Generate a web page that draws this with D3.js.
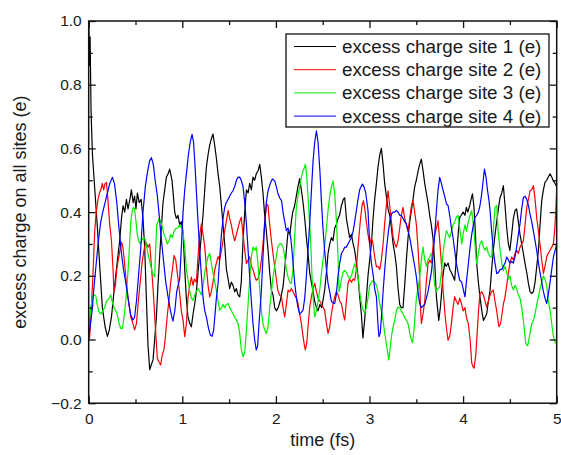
<!DOCTYPE html>
<html><head><meta charset="utf-8">
<script src="https://cdn.jsdelivr.net/npm/d3@7"></script>
<style>
html,body{margin:0;padding:0;background:#fff;}
svg{display:block;font-family:"Liberation Sans",Arial,sans-serif;}
</style></head>
<body>
<svg id="c" width="561" height="455"></svg>
<script>
// ---------- data (time in fs, excess charge in e) ----------
const seriesNames = ["excess charge site 1 (e)","excess charge site 2 (e)","excess charge site 3 (e)","excess charge site 4 (e)"];
const seriesColors = ["#000000","#ff0000","#00f000","#0000ff"];
const xTickValues = [0,1,2,3,4,5];
const yTickValues = [-0.2,0.0,0.2,0.4,0.6,0.8,1.0];
const xMinorTicks = [0.5,1.5,2.5,3.5,4.5];
const yMinorTicks = [-0.1,0.1,0.3,0.5,0.7,0.9];

const site1 = [[0,1.0],[0.008,0.86],[0.015,0.95],[0.025,0.72],[0.04,0.58],[0.07,0.45],[0.093,0.35],[0.12,0.22],[0.146,0.1],[0.175,0.04],[0.2,0.01],[0.22,0.03],[0.243,0.07],[0.27,0.15],[0.296,0.22],[0.331,0.31],[0.35,0.38],[0.367,0.42],[0.385,0.40],[0.403,0.44],[0.42,0.41],[0.44,0.44],[0.456,0.47],[0.475,0.43],[0.49,0.45],[0.505,0.41],[0.52,0.46],[0.54,0.43],[0.56,0.44],[0.58,0.38],[0.598,0.29],[0.616,0.13],[0.634,-0.02],[0.652,-0.095],[0.668,-0.08],[0.687,-0.064],[0.705,0.0],[0.723,0.07],[0.74,0.17],[0.758,0.26],[0.776,0.35],[0.794,0.43],[0.812,0.47],[0.83,0.51],[0.848,0.52],[0.865,0.535],[0.89,0.50],[0.905,0.45],[0.919,0.40],[0.936,0.38],[0.954,0.39],[0.972,0.36],[0.99,0.37],[1.01,0.33],[1.026,0.22],[1.043,0.13],[1.061,0.07],[1.08,0.05],[1.097,0.04],[1.115,0.08],[1.132,0.11],[1.15,0.15],[1.168,0.21],[1.195,0.30],[1.221,0.39],[1.24,0.47],[1.257,0.54],[1.275,0.58],[1.293,0.61],[1.31,0.63],[1.328,0.645],[1.346,0.61],[1.364,0.57],[1.382,0.52],[1.4,0.48],[1.418,0.42],[1.435,0.36],[1.453,0.30],[1.471,0.22],[1.49,0.19],[1.506,0.16],[1.524,0.18],[1.542,0.17],[1.56,0.15],[1.578,0.16],[1.595,0.14],[1.613,0.134],[1.63,0.18],[1.649,0.31],[1.667,0.40],[1.685,0.47],[1.703,0.46],[1.72,0.49],[1.738,0.47],[1.755,0.51],[1.773,0.50],[1.79,0.52],[1.81,0.53],[1.827,0.55],[1.845,0.51],[1.862,0.46],[1.88,0.39],[1.898,0.34],[1.916,0.28],[1.934,0.21],[1.952,0.155],[1.969,0.14],[1.987,0.10],[2.005,0.09],[2.025,0.10],[2.045,0.12],[2.076,0.165],[2.094,0.22],[2.112,0.28],[2.13,0.34],[2.15,0.33],[2.165,0.37],[2.18,0.40],[2.2,0.42],[2.218,0.45],[2.236,0.48],[2.254,0.505],[2.272,0.47],[2.29,0.43],[2.308,0.38],[2.326,0.32],[2.343,0.27],[2.361,0.21],[2.379,0.18],[2.397,0.15],[2.415,0.12],[2.433,0.10],[2.45,0.09],[2.47,0.11],[2.49,0.10],[2.521,0.155],[2.54,0.21],[2.557,0.27],[2.575,0.30],[2.593,0.32],[2.61,0.31],[2.628,0.35],[2.645,0.36],[2.664,0.38],[2.68,0.39],[2.7,0.42],[2.72,0.44],[2.735,0.445],[2.753,0.38],[2.77,0.35],[2.788,0.32],[2.807,0.33],[2.825,0.30],[2.842,0.28],[2.86,0.24],[2.877,0.20],[2.895,0.134],[2.913,0.08],[2.93,0.005],[2.948,0.06],[2.966,0.13],[2.984,0.20],[3.002,0.25],[3.02,0.30],[3.038,0.38],[3.055,0.44],[3.074,0.49],[3.09,0.54],[3.11,0.58],[3.127,0.60],[3.145,0.55],[3.162,0.49],[3.18,0.45],[3.198,0.41],[3.216,0.39],[3.234,0.35],[3.252,0.30],[3.27,0.27],[3.287,0.23],[3.305,0.16],[3.323,0.11],[3.34,0.10],[3.358,0.10],[3.376,0.17],[3.394,0.25],[3.412,0.32],[3.43,0.37],[3.45,0.41],[3.465,0.44],[3.483,0.48],[3.50,0.50],[3.52,0.53],[3.536,0.55],[3.554,0.566],[3.572,0.53],[3.59,0.49],[3.607,0.46],[3.625,0.43],[3.643,0.39],[3.66,0.36],[3.678,0.32],[3.697,0.24],[3.715,0.134],[3.74,0.06],[3.757,0.10],[3.785,0.20],[3.803,0.24],[3.82,0.23],[3.84,0.24],[3.857,0.22],[3.875,0.21],[3.89,0.20],[3.91,0.186],[3.935,0.28],[3.95,0.34],[3.964,0.384],[3.98,0.39],[4.0,0.40],[4.02,0.39],[4.035,0.415],[4.05,0.40],[4.07,0.42],[4.085,0.44],[4.1,0.457],[4.115,0.42],[4.127,0.36],[4.145,0.24],[4.163,0.18],[4.18,0.134],[4.2,0.09],[4.217,0.06],[4.235,0.07],[4.252,0.08],[4.27,0.12],[4.288,0.155],[4.305,0.22],[4.323,0.28],[4.341,0.33],[4.359,0.37],[4.377,0.41],[4.395,0.446],[4.413,0.46],[4.43,0.483],[4.448,0.42],[4.466,0.35],[4.484,0.30],[4.5,0.28],[4.519,0.33],[4.537,0.38],[4.555,0.405],[4.572,0.41],[4.59,0.37],[4.608,0.33],[4.626,0.30],[4.644,0.27],[4.662,0.238],[4.68,0.21],[4.698,0.176],[4.715,0.15],[4.733,0.144],[4.751,0.15],[4.769,0.18],[4.787,0.23],[4.805,0.28],[4.822,0.36],[4.84,0.436],[4.858,0.47],[4.875,0.493],[4.893,0.50],[4.91,0.51],[4.929,0.52],[4.947,0.51],[4.965,0.498],[4.983,0.49],[5.0,0.48]];

const site2 = [[0,0.0],[0.01,0.005],[0.025,0.08],[0.045,0.2],[0.064,0.34],[0.08,0.40],[0.1,0.44],[0.115,0.46],[0.13,0.47],[0.145,0.49],[0.16,0.47],[0.175,0.49],[0.19,0.493],[0.205,0.44],[0.225,0.36],[0.243,0.31],[0.26,0.22],[0.27,0.15],[0.285,0.17],[0.3,0.22],[0.324,0.264],[0.34,0.29],[0.352,0.306],[0.365,0.29],[0.38,0.25],[0.395,0.20],[0.41,0.16],[0.43,0.11],[0.45,0.07],[0.473,0.05],[0.49,0.03],[0.51,0.05],[0.53,0.12],[0.55,0.18],[0.57,0.24],[0.59,0.28],[0.61,0.306],[0.635,0.29],[0.652,0.30],[0.67,0.23],[0.69,0.15],[0.71,0.05],[0.733,-0.059],[0.75,-0.07],[0.769,-0.08],[0.785,-0.05],[0.805,-0.03],[0.823,0.02],[0.84,0.077],[0.86,0.13],[0.876,0.18],[0.895,0.22],[0.912,0.264],[0.93,0.25],[0.95,0.2],[0.97,0.15],[0.99,0.09],[1.008,0.06],[1.026,0.009],[1.044,0.05],[1.06,0.13],[1.08,0.17],[1.097,0.196],[1.115,0.17],[1.13,0.19],[1.15,0.18],[1.168,0.26],[1.186,0.33],[1.204,0.363],[1.222,0.33],[1.24,0.29],[1.257,0.228],[1.275,0.17],[1.293,0.134],[1.31,0.15],[1.328,0.18],[1.346,0.217],[1.364,0.24],[1.382,0.26],[1.4,0.25],[1.418,0.28],[1.435,0.31],[1.453,0.342],[1.47,0.37],[1.49,0.405],[1.506,0.38],[1.524,0.36],[1.542,0.33],[1.56,0.31],[1.578,0.33],[1.595,0.35],[1.613,0.37],[1.63,0.384],[1.649,0.33],[1.667,0.28],[1.685,0.238],[1.703,0.25],[1.72,0.26],[1.738,0.23],[1.755,0.22],[1.773,0.20],[1.79,0.186],[1.808,0.19],[1.827,0.21],[1.845,0.25],[1.862,0.30],[1.88,0.37],[1.9,0.426],[1.916,0.42],[1.934,0.36],[1.952,0.31],[1.969,0.27],[1.987,0.228],[2.005,0.19],[2.02,0.155],[2.04,0.14],[2.06,0.134],[2.076,0.10],[2.094,0.071],[2.112,0.11],[2.13,0.155],[2.148,0.15],[2.165,0.16],[2.183,0.15],[2.2,0.14],[2.218,0.13],[2.236,0.113],[2.254,0.08],[2.272,0.05],[2.29,0.01],[2.305,-0.02],[2.315,-0.033],[2.33,-0.01],[2.343,0.04],[2.361,0.10],[2.379,0.134],[2.397,0.16],[2.415,0.176],[2.433,0.15],[2.45,0.13],[2.47,0.12],[2.49,0.11],[2.52,0.092],[2.54,0.05],[2.557,0.019],[2.575,0.04],[2.593,0.08],[2.61,0.11],[2.628,0.134],[2.645,0.15],[2.664,0.14],[2.682,0.12],[2.7,0.113],[2.72,0.08],[2.735,0.061],[2.753,0.12],[2.77,0.176],[2.788,0.19],[2.807,0.18],[2.825,0.19],[2.842,0.186],[2.86,0.22],[2.877,0.29],[2.895,0.35],[2.906,0.384],[2.92,0.42],[2.935,0.436],[2.95,0.41],[2.966,0.37],[2.984,0.33],[3.002,0.30],[3.02,0.32],[3.038,0.30],[3.055,0.26],[3.074,0.228],[3.09,0.23],[3.11,0.22],[3.127,0.25],[3.145,0.30],[3.162,0.363],[3.18,0.42],[3.198,0.467],[3.216,0.42],[3.234,0.37],[3.252,0.321],[3.27,0.30],[3.287,0.29],[3.305,0.31],[3.323,0.35],[3.34,0.39],[3.358,0.415],[3.376,0.38],[3.394,0.36],[3.412,0.34],[3.43,0.38],[3.448,0.42],[3.465,0.436],[3.483,0.40],[3.501,0.36],[3.52,0.28],[3.536,0.196],[3.545,0.10],[3.554,0.05],[3.572,0.08],[3.59,0.12],[3.607,0.18],[3.625,0.238],[3.643,0.25],[3.66,0.24],[3.678,0.29],[3.697,0.33],[3.715,0.35],[3.732,0.373],[3.75,0.31],[3.768,0.238],[3.785,0.16],[3.803,0.092],[3.82,0.04],[3.839,-0.002],[3.857,0.01],[3.875,0.05],[3.893,0.10],[3.91,0.134],[3.928,0.12],[3.946,0.11],[3.964,0.13],[3.985,0.11],[4.0,0.09],[4.02,0.10],[4.035,0.07],[4.056,0.05],[4.075,0.0],[4.092,-0.074],[4.105,-0.085],[4.117,-0.09],[4.135,-0.05],[4.15,0.02],[4.165,0.09],[4.18,0.144],[4.2,0.15],[4.217,0.14],[4.235,0.12],[4.252,0.102],[4.27,0.12],[4.288,0.14],[4.305,0.15],[4.323,0.155],[4.341,0.12],[4.359,0.09],[4.377,0.05],[4.384,0.04],[4.4,0.05],[4.416,0.08],[4.43,0.11],[4.448,0.134],[4.466,0.17],[4.484,0.21],[4.5,0.24],[4.519,0.259],[4.537,0.25],[4.555,0.27],[4.572,0.28],[4.59,0.27],[4.608,0.29],[4.626,0.30],[4.644,0.31],[4.662,0.36],[4.68,0.415],[4.698,0.44],[4.715,0.467],[4.733,0.47],[4.751,0.483],[4.769,0.44],[4.787,0.38],[4.805,0.34],[4.822,0.30],[4.84,0.25],[4.858,0.207],[4.875,0.23],[4.893,0.259],[4.91,0.27],[4.929,0.28],[4.947,0.29],[4.965,0.30],[4.98,0.35],[4.99,0.40],[5.0,0.47]];

const site3 = [[0,0.0],[0.01,0.06],[0.021,0.1],[0.035,0.12],[0.05,0.14],[0.075,0.139],[0.09,0.11],[0.11,0.087],[0.13,0.08],[0.15,0.09],[0.17,0.10],[0.19,0.12],[0.217,0.129],[0.235,0.14],[0.25,0.12],[0.27,0.10],[0.29,0.09],[0.306,0.077],[0.325,0.05],[0.342,0.035],[0.36,0.035],[0.378,0.07],[0.395,0.118],[0.41,0.17],[0.424,0.233],[0.437,0.30],[0.449,0.368],[0.463,0.40],[0.477,0.415],[0.49,0.41],[0.505,0.37],[0.52,0.327],[0.535,0.31],[0.55,0.30],[0.565,0.31],[0.585,0.32],[0.602,0.316],[0.62,0.29],[0.64,0.26],[0.662,0.233],[0.68,0.21],[0.705,0.196],[0.715,0.28],[0.726,0.358],[0.751,0.379],[0.77,0.37],[0.79,0.35],[0.805,0.33],[0.823,0.316],[0.84,0.30],[0.86,0.31],[0.876,0.33],[0.895,0.32],[0.912,0.34],[0.93,0.348],[0.95,0.35],[0.972,0.36],[0.99,0.35],[1.0,0.358],[1.01,0.33],[1.026,0.29],[1.044,0.217],[1.06,0.19],[1.08,0.15],[1.097,0.13],[1.115,0.123],[1.132,0.14],[1.15,0.15],[1.168,0.16],[1.186,0.15],[1.204,0.14],[1.222,0.17],[1.24,0.21],[1.257,0.238],[1.275,0.26],[1.293,0.27],[1.31,0.24],[1.328,0.21],[1.346,0.18],[1.364,0.155],[1.382,0.12],[1.4,0.092],[1.418,0.10],[1.435,0.11],[1.453,0.10],[1.47,0.11],[1.49,0.113],[1.506,0.10],[1.524,0.09],[1.542,0.08],[1.56,0.07],[1.578,0.061],[1.595,0.05],[1.613,0.02],[1.63,-0.03],[1.649,-0.054],[1.667,-0.04],[1.685,0.03],[1.703,0.113],[1.72,0.19],[1.738,0.259],[1.755,0.29],[1.773,0.28],[1.79,0.29],[1.808,0.24],[1.827,0.16],[1.845,0.09],[1.862,0.05],[1.88,0.03],[1.898,0.019],[1.916,0.04],[1.934,0.10],[1.952,0.15],[1.969,0.196],[1.987,0.23],[2.005,0.259],[2.02,0.29],[2.04,0.30],[2.06,0.30],[2.076,0.29],[2.094,0.26],[2.112,0.22],[2.13,0.196],[2.148,0.18],[2.165,0.176],[2.183,0.22],[2.2,0.32],[2.218,0.415],[2.236,0.45],[2.254,0.48],[2.272,0.509],[2.29,0.53],[2.305,0.54],[2.315,0.55],[2.33,0.51],[2.343,0.45],[2.361,0.363],[2.375,0.28],[2.386,0.196],[2.4,0.12],[2.415,0.071],[2.433,0.09],[2.45,0.12],[2.47,0.16],[2.486,0.207],[2.503,0.25],[2.52,0.29],[2.54,0.35],[2.557,0.405],[2.575,0.45],[2.593,0.48],[2.61,0.498],[2.628,0.46],[2.645,0.38],[2.664,0.259],[2.675,0.15],[2.69,0.17],[2.7,0.19],[2.717,0.21],[2.735,0.217],[2.753,0.21],[2.77,0.20],[2.788,0.19],[2.807,0.20],[2.825,0.22],[2.842,0.238],[2.86,0.22],[2.877,0.20],[2.895,0.15],[2.92,0.102],[2.949,0.082],[2.966,0.10],[2.984,0.13],[3.002,0.17],[3.02,0.18],[3.038,0.185],[3.055,0.18],[3.074,0.17],[3.09,0.15],[3.109,0.113],[3.127,0.09],[3.145,0.06],[3.162,0.02],[3.18,-0.012],[3.205,-0.064],[3.22,-0.03],[3.234,0.01],[3.252,0.04],[3.27,0.061],[3.287,0.09],[3.305,0.102],[3.323,0.10],[3.34,0.09],[3.358,0.08],[3.376,0.07],[3.394,0.06],[3.412,0.05],[3.43,0.02],[3.448,-0.002],[3.46,-0.01],[3.475,0.03],[3.49,0.09],[3.501,0.13],[3.518,0.16],[3.536,0.196],[3.554,0.25],[3.572,0.29],[3.59,0.25],[3.607,0.23],[3.625,0.25],[3.643,0.259],[3.66,0.27],[3.678,0.23],[3.697,0.17],[3.715,0.15],[3.732,0.16],[3.75,0.165],[3.768,0.21],[3.785,0.27],[3.803,0.31],[3.822,0.342],[3.84,0.33],[3.857,0.32],[3.875,0.34],[3.893,0.36],[3.91,0.37],[3.928,0.384],[3.946,0.39],[3.964,0.35],[3.985,0.30],[4.0,0.33],[4.02,0.36],[4.035,0.34],[4.056,0.37],[4.075,0.39],[4.092,0.405],[4.11,0.36],[4.127,0.30],[4.145,0.238],[4.163,0.27],[4.18,0.3],[4.2,0.31],[4.217,0.29],[4.235,0.28],[4.252,0.29],[4.27,0.27],[4.288,0.26],[4.305,0.259],[4.32,0.33],[4.341,0.415],[4.359,0.42],[4.377,0.33],[4.395,0.28],[4.413,0.24],[4.43,0.217],[4.448,0.23],[4.466,0.21],[4.484,0.19],[4.5,0.2],[4.519,0.17],[4.537,0.155],[4.555,0.17],[4.572,0.16],[4.59,0.14],[4.608,0.13],[4.626,0.10],[4.644,0.06],[4.669,-0.012],[4.69,-0.02],[4.715,0.02],[4.733,0.05],[4.751,0.06],[4.769,0.08],[4.787,0.11],[4.805,0.134],[4.822,0.16],[4.84,0.18],[4.858,0.20],[4.875,0.19],[4.893,0.17],[4.91,0.12],[4.929,0.092],[4.947,0.05],[4.965,0.009],[4.983,-0.01],[5.0,-0.012]];

const site4 = [[0,0.0],[0.003,0.014],[0.02,0.05],[0.04,0.10],[0.055,0.16],[0.075,0.222],[0.1,0.30],[0.128,0.368],[0.15,0.40],[0.175,0.43],[0.2,0.46],[0.225,0.49],[0.253,0.509],[0.275,0.49],[0.3,0.43],[0.324,0.348],[0.35,0.27],[0.372,0.22],[0.395,0.181],[0.42,0.13],[0.449,0.077],[0.473,0.061],[0.49,0.07],[0.51,0.12],[0.535,0.21],[0.556,0.285],[0.58,0.40],[0.605,0.48],[0.627,0.524],[0.65,0.56],[0.67,0.571],[0.69,0.55],[0.71,0.50],[0.733,0.452],[0.75,0.40],[0.769,0.337],[0.795,0.26],[0.823,0.181],[0.85,0.13],[0.876,0.087],[0.9,0.058],[0.92,0.09],[0.94,0.15],[0.955,0.17],[0.972,0.19],[0.99,0.29],[1.008,0.40],[1.026,0.47],[1.044,0.52],[1.065,0.58],[1.085,0.62],[1.104,0.644],[1.12,0.62],[1.135,0.55],[1.15,0.467],[1.168,0.37],[1.186,0.28],[1.204,0.2],[1.222,0.13],[1.24,0.09],[1.257,0.071],[1.28,0.035],[1.3,0.014],[1.318,0.01],[1.335,0.03],[1.35,0.08],[1.364,0.13],[1.382,0.176],[1.4,0.26],[1.418,0.33],[1.435,0.38],[1.453,0.415],[1.47,0.43],[1.49,0.44],[1.506,0.45],[1.524,0.46],[1.542,0.467],[1.56,0.48],[1.578,0.50],[1.595,0.509],[1.613,0.51],[1.63,0.50],[1.649,0.48],[1.667,0.43],[1.685,0.363],[1.703,0.28],[1.72,0.196],[1.738,0.12],[1.755,0.05],[1.773,0.0],[1.79,-0.033],[1.805,-0.02],[1.82,0.05],[1.845,0.155],[1.862,0.26],[1.88,0.36],[1.898,0.43],[1.916,0.467],[1.94,0.49],[1.962,0.504],[1.987,0.498],[2.005,0.48],[2.02,0.46],[2.04,0.445],[2.06,0.436],[2.076,0.40],[2.094,0.37],[2.112,0.342],[2.13,0.35],[2.145,0.335],[2.158,0.321],[2.175,0.27],[2.2,0.18],[2.218,0.134],[2.236,0.10],[2.254,0.08],[2.272,0.085],[2.29,0.092],[2.308,0.13],[2.326,0.20],[2.343,0.28],[2.361,0.363],[2.38,0.47],[2.397,0.56],[2.415,0.62],[2.433,0.655],[2.45,0.62],[2.47,0.53],[2.486,0.436],[2.503,0.35],[2.52,0.28],[2.54,0.22],[2.557,0.176],[2.575,0.15],[2.593,0.12],[2.61,0.115],[2.628,0.113],[2.645,0.14],[2.664,0.20],[2.682,0.24],[2.7,0.27],[2.72,0.28],[2.735,0.29],[2.753,0.29],[2.77,0.30],[2.788,0.31],[2.807,0.32],[2.825,0.34],[2.842,0.37],[2.86,0.405],[2.877,0.44],[2.895,0.47],[2.91,0.48],[2.924,0.488],[2.94,0.48],[2.96,0.46],[2.984,0.405],[3.002,0.30],[3.02,0.24],[3.04,0.20],[3.055,0.16],[3.074,0.134],[3.09,0.05],[3.101,0.009],[3.115,0.02],[3.13,0.08],[3.145,0.15],[3.162,0.217],[3.18,0.28],[3.198,0.33],[3.216,0.37],[3.234,0.394],[3.252,0.40],[3.27,0.40],[3.287,0.405],[3.305,0.40],[3.323,0.39],[3.34,0.39],[3.358,0.38],[3.376,0.37],[3.394,0.363],[3.412,0.34],[3.43,0.32],[3.448,0.29],[3.465,0.26],[3.483,0.23],[3.501,0.196],[3.518,0.15],[3.536,0.113],[3.554,0.10],[3.572,0.105],[3.59,0.11],[3.607,0.13],[3.625,0.15],[3.643,0.18],[3.66,0.21],[3.678,0.259],[3.697,0.33],[3.715,0.405],[3.732,0.47],[3.75,0.509],[3.768,0.49],[3.785,0.47],[3.803,0.45],[3.822,0.426],[3.84,0.42],[3.857,0.39],[3.875,0.35],[3.892,0.321],[3.91,0.28],[3.928,0.24],[3.946,0.21],[3.964,0.186],[3.985,0.18],[4.0,0.16],[4.02,0.134],[4.035,0.18],[4.056,0.238],[4.075,0.29],[4.092,0.33],[4.11,0.36],[4.127,0.384],[4.145,0.39],[4.163,0.40],[4.18,0.42],[4.199,0.457],[4.215,0.50],[4.228,0.535],[4.245,0.51],[4.26,0.47],[4.275,0.44],[4.288,0.405],[4.305,0.34],[4.323,0.28],[4.341,0.24],[4.359,0.207],[4.377,0.21],[4.395,0.22],[4.413,0.22],[4.43,0.23],[4.448,0.24],[4.466,0.259],[4.484,0.25],[4.5,0.24],[4.519,0.245],[4.537,0.24],[4.555,0.26],[4.572,0.29],[4.59,0.33],[4.608,0.363],[4.626,0.41],[4.644,0.446],[4.662,0.45],[4.68,0.44],[4.698,0.42],[4.715,0.394],[4.733,0.37],[4.751,0.34],[4.769,0.31],[4.786,0.28],[4.805,0.24],[4.822,0.21],[4.84,0.18],[4.858,0.15],[4.875,0.13],[4.893,0.113],[4.91,0.14],[4.929,0.18],[4.947,0.22],[4.965,0.259],[4.983,0.28],[5.0,0.30]];

const allSeries = [site1, site2, site3, site4];

// ---------- layout ----------
const W = 561, H = 455;
const margin = {left: 88.7, right: 4.3, top: 21, bottom: 51.8};
const svg = d3.select("#c");
const x = d3.scaleLinear().domain([0,5]).range([margin.left, W - margin.right]);
const y = d3.scaleLinear().domain([-0.2,1.0]).range([H - margin.bottom, margin.top]);
const fontFam = '"Liberation Sans", Arial, sans-serif';
const textCol = "#1a1a1a";

svg.append("defs").append("clipPath").attr("id","clip")
  .append("rect").attr("x", x(0)).attr("y", y(1.0)).attr("width", x(5)-x(0)).attr("height", y(-0.2)-y(1.0));

// data lines
const line = d3.line().x(d => x(d[0])).y(d => y(d[1]));
const gLines = svg.append("g").attr("clip-path","url(#clip)");
allSeries.forEach((s,i) => {
  gLines.append("path").datum(s).attr("d", line)
    .attr("fill","none").attr("stroke", seriesColors[i]).attr("stroke-width", 1.2)
    .attr("stroke-linejoin","round");
});

// axes
function styleAxis(g){
  g.select(".domain").remove();
  g.selectAll(".tick line").attr("stroke","#111").attr("stroke-width",1.3);
  g.selectAll(".tick text").attr("fill", textCol).attr("font-family", fontFam).attr("font-size", 15.5);
}
const fmtY = d3.format(".1f");
svg.append("g").attr("transform",`translate(0,${y(-0.2)})`)
  .call(d3.axisBottom(x).tickValues(xTickValues).tickFormat(d3.format("d")).tickSizeInner(-7).tickSizeOuter(0).tickPadding(10))
  .call(styleAxis);
svg.append("g").attr("transform",`translate(0,${y(-0.2)})`)
  .call(d3.axisBottom(x).tickValues(xMinorTicks).tickFormat("").tickSizeInner(-4).tickSizeOuter(0))
  .call(styleAxis);
svg.append("g").attr("transform",`translate(0,${y(1.0)})`)
  .call(d3.axisTop(x).tickValues(xTickValues).tickFormat("").tickSizeInner(-7).tickSizeOuter(0))
  .call(styleAxis);
svg.append("g").attr("transform",`translate(0,${y(1.0)})`)
  .call(d3.axisTop(x).tickValues(xMinorTicks).tickFormat("").tickSizeInner(-4).tickSizeOuter(0))
  .call(styleAxis);
svg.append("g").attr("transform",`translate(${x(0)},0)`)
  .call(d3.axisLeft(y).tickValues(yTickValues).tickFormat(fmtY).tickSizeInner(-7).tickSizeOuter(0).tickPadding(7))
  .call(styleAxis);
svg.append("g").attr("transform",`translate(${x(0)},0)`)
  .call(d3.axisLeft(y).tickValues(yMinorTicks).tickFormat("").tickSizeInner(-4).tickSizeOuter(0))
  .call(styleAxis);
svg.append("g").attr("transform",`translate(${x(5)},0)`)
  .call(d3.axisRight(y).tickValues(yTickValues).tickFormat("").tickSizeInner(-7).tickSizeOuter(0))
  .call(styleAxis);
svg.append("g").attr("transform",`translate(${x(5)},0)`)
  .call(d3.axisRight(y).tickValues(yMinorTicks).tickFormat("").tickSizeInner(-4).tickSizeOuter(0))
  .call(styleAxis);

// frame
svg.append("rect").attr("x", x(0)).attr("y", y(1.0)).attr("width", x(5)-x(0)).attr("height", y(-0.2)-y(1.0))
  .attr("fill","none").attr("stroke","#111").attr("stroke-width",1.5);

// axis titles
svg.append("text").attr("x", (x(0)+x(5))/2).attr("y", 446)
  .attr("text-anchor","middle").attr("font-family", fontFam).attr("font-size", 18).attr("fill", textCol)
  .text("time (fs)");
svg.append("text").attr("transform",`translate(26,${(y(1.0)+y(-0.2))/2}) rotate(-90)`)
  .attr("text-anchor","middle").attr("font-family", fontFam).attr("font-size", 18).attr("fill", textCol)
  .text("excess charge on all sites (e)");

// legend
const leg = svg.append("g");
leg.append("rect").attr("x",286).attr("y",34).attr("width",263).attr("height",93)
  .attr("fill","#fff").attr("stroke","#111").attr("stroke-width",1.3);
seriesNames.forEach((name,i) => {
  const cy = 46.5 + i*23.2;
  leg.append("line").attr("x1",294).attr("x2",336).attr("y1",cy).attr("y2",cy)
    .attr("stroke", seriesColors[i]).attr("stroke-width",1);
  leg.append("text").attr("x",342).attr("y",cy).attr("dy","0.35em")
    .attr("font-family", fontFam).attr("font-size", 18.8).attr("fill", textCol).text(name);
});
</script>
</body></html>
